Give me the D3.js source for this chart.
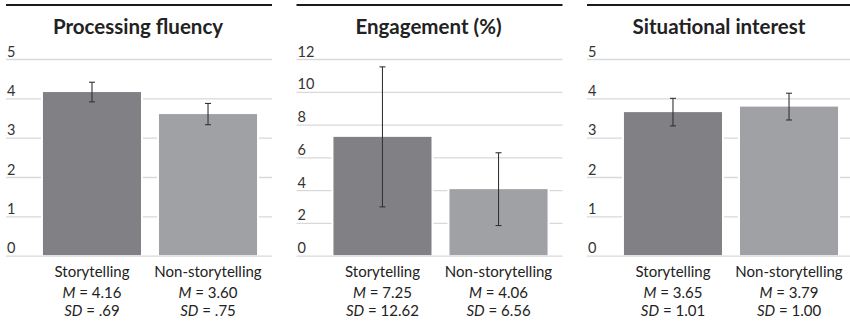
<!DOCTYPE html>
<html>
<head>
<meta charset="utf-8">
<script src="https://cdn.jsdelivr.net/npm/d3@7"></script>
<style>
  html, body { margin: 0; padding: 0; background: #fff; }
  svg { display: block; }
</style>
</head>
<body>
<svg id="chart" width="850" height="325"></svg>
<script>
// Group labels shared by all three panels
const categories = ["Storytelling", "Non-storytelling"];
const panelTitles = ["Processing fluency", "Engagement (%)", "Situational interest"];

// Processing fluency (1–5 scale)
const fluencyMeans = [4.16, 3.60];
const fluencySD = [0.69, 0.75];
const fluencyErr = [0.25, 0.27];
const fluencyTicks = [0, 1, 2, 3, 4, 5];

// Engagement (%)
const engagementMeans = [7.25, 4.06];
const engagementSD = [12.62, 6.56];
const engagementErr = [4.27, 2.22];
const engagementTicks = [0, 2, 4, 6, 8, 10, 12];

// Situational interest (1–5 scale)
const interestMeans = [3.65, 3.79];
const interestSD = [1.01, 1.00];
const interestErr = [0.35, 0.34];
const interestTicks = [0, 1, 2, 3, 4, 5];

const panels = [
  { title: panelTitles[0], means: fluencyMeans, sd: fluencySD, err: fluencyErr, ticks: fluencyTicks },
  { title: panelTitles[1], means: engagementMeans, sd: engagementSD, err: engagementErr, ticks: engagementTicks },
  { title: panelTitles[2], means: interestMeans, sd: interestSD, err: interestErr, ticks: interestTicks }
];

const barColors = ["#818185", "#a0a1a4"];
const FONT = "Lato, 'Open Sans', sans-serif";

const svg = d3.select("#chart");
const panelW = 266, panelStep = 290.5, panelX0 = 6;
const yTop = 59, yBase = 255.7;

// SD values below 1 are written without the leading zero
const fmt2 = d3.format(".2f");
const fmtSD = v => { const s = fmt2(v); return s.startsWith("0.") ? s.slice(1) : s; };

panels.forEach((p, i) => {
  const g = svg.append("g").attr("transform", `translate(${panelX0 + i * panelStep},0)`);

  const x = d3.scaleBand().domain(categories).range([25, 263])
    .paddingInner(0.155).paddingOuter(0.103);
  const y = d3.scaleLinear().domain([0, d3.max(p.ticks)]).range([yBase, yTop]);

  // heavy rule above the title
  g.append("line").attr("x1", 0).attr("x2", panelW).attr("y1", 5).attr("y2", 5)
    .attr("stroke", "#1a1a1a").attr("stroke-width", 2);

  g.append("text").attr("x", panelW / 2 - 1).attr("y", 33.5)
    .attr("text-anchor", "middle").attr("font-family", FONT)
    .attr("font-weight", 700).attr("font-size", 20.5).attr("fill", "#222")
    .text(p.title);

  // horizontal gridlines with value labels sitting on them
  const axis = d3.axisLeft(y).tickValues(p.ticks).tickSize(-panelW).tickFormat(d3.format("d"));
  const ax = g.append("g").call(axis);
  ax.select(".domain").remove();
  ax.selectAll(".tick line").attr("stroke", "#d9d9d9").attr("stroke-width", 1.3);
  ax.selectAll(".tick text")
    .attr("x", 1).attr("dy", -3).attr("text-anchor", "start")
    .attr("font-family", FONT).attr("font-size", 14.5).attr("fill", "#333");

  // white margin around each bar, then the bar itself
  g.selectAll("rect.halo").data(p.means).join("rect").attr("class", "halo")
    .attr("x", (d, j) => x(categories[j]) - 2).attr("width", x.bandwidth() + 4)
    .attr("y", d => y(d) - 2).attr("height", d => yBase - y(d) + 1)
    .attr("fill", "#fff");
  g.selectAll("rect.bar").data(p.means).join("rect").attr("class", "bar")
    .attr("x", (d, j) => x(categories[j])).attr("width", x.bandwidth())
    .attr("y", d => y(d)).attr("height", d => yBase - y(d) - 0.6)
    .attr("fill", (d, j) => barColors[j]);

  // error bars
  p.means.forEach((m, j) => {
    const cx = x(categories[j]) + x.bandwidth() / 2;
    const lo = y(m - p.err[j]), hi = y(m + p.err[j]);
    const eb = g.append("g").attr("stroke", "#333").attr("stroke-width", 1.1);
    eb.append("line").attr("x1", cx).attr("x2", cx).attr("y1", hi).attr("y2", lo);
    eb.append("line").attr("x1", cx - 3).attr("x2", cx + 3).attr("y1", hi).attr("y2", hi);
    eb.append("line").attr("x1", cx - 3).attr("x2", cx + 3).attr("y1", lo).attr("y2", lo);
  });

  // category names and descriptive statistics
  categories.forEach((c, j) => {
    const cx = x(c) + x.bandwidth() / 2;
    g.append("text").attr("x", cx).attr("y", 277).attr("text-anchor", "middle")
      .attr("font-family", FONT).attr("font-size", 15).attr("fill", "#222").text(c);

    const t1 = g.append("text").attr("x", cx).attr("y", 298).attr("text-anchor", "middle")
      .attr("font-family", FONT).attr("font-size", 15).attr("fill", "#222");
    t1.append("tspan").attr("font-style", "italic").text("M");
    t1.append("tspan").text(" = " + fmt2(p.means[j]));

    const t2 = g.append("text").attr("x", cx).attr("y", 315.5).attr("text-anchor", "middle")
      .attr("font-family", FONT).attr("font-size", 15).attr("fill", "#222");
    t2.append("tspan").attr("font-style", "italic").text("SD");
    t2.append("tspan").text(" = " + fmtSD(p.sd[j]));
  });
});
</script>
</body>
</html>
